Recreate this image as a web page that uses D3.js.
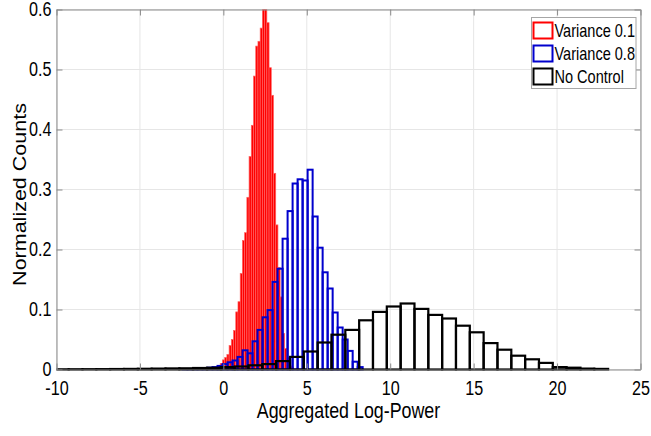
<!DOCTYPE html>
<html>
<head>
<meta charset="utf-8">
<script src="https://cdn.jsdelivr.net/npm/d3@7"></script>
<style>
  body { margin: 0; background: #fff; }
  text { font-family: "Liberation Sans", Arial, sans-serif; fill: #000; }
</style>
</head>
<body>
<svg id="chart" width="651" height="436"></svg>
<script>
// histogram bins (first edge + width, in data units) and normalized counts
var redStart = -0.32, redWidth = 0.133;
var redCounts = [0.006, 0.010, 0.016, 0.020, 0.025, 0.040, 0.050, 0.065, 0.096, 0.113,
  0.160, 0.215, 0.228, 0.287, 0.355, 0.407, 0.489, 0.539, 0.547, 0.569,
  0.62, 0.62, 0.578, 0.503, 0.457, 0.327, 0.241, 0.170, 0.121, 0.060,
  0.035, 0.020, 0.006, 0.004];

var blueStart = -2.45, blueWidth = 0.3;
var blueCounts = [0.0005, 0.0008, 0.001, 0.0015, 0.002, 0.003, 0.004, 0.006, 0.009, 0.012,
  0.015, 0.021, 0.032, 0.027, 0.047, 0.066, 0.087, 0.099, 0.146, 0.168,
  0.218, 0.264, 0.310, 0.317, 0.315, 0.333, 0.255, 0.203, 0.162, 0.135,
  0.095, 0.070, 0.050, 0.031, 0.013, 0.004];

var blackStart = -10.1, blackWidth = 0.829;
var blackCounts = [0.0003, 0.0004, 0.0005, 0.0006, 0.0008, 0.001, 0.0012, 0.0015, 0.0018, 0.002,
  0.0025, 0.003, 0.004, 0.005, 0.007, 0.009, 0.014, 0.021, 0.030, 0.045,
  0.058, 0.066, 0.082, 0.096, 0.105, 0.110, 0.101, 0.091, 0.085, 0.073,
  0.062, 0.044, 0.033, 0.023, 0.017, 0.011, 0.004, 0.003, 0.0015, 0.001];

var xTicks = [-10, -5, 0, 5, 10, 15, 20, 25];
var yTicks = [0, 0.1, 0.2, 0.3, 0.4, 0.5, 0.6];
var seriesNames = ['Variance 0.1', 'Variance 0.8', 'No Control'];

var svg = d3.select('#chart');
var m = {left: 56.5, right: 640.5, top: 9.5, bottom: 369.5};
var sx = 0.83; // glyphs look horizontally squeezed

var x = d3.scaleLinear().domain([-10, 25]).range([m.left, m.right]);
var y = d3.scaleLinear().domain([0, 0.6]).range([m.bottom, m.top]);

function bins(start, width, counts) {
  return counts.map(function(c, i) {
    return {x0: start + i * width, x1: start + (i + 1) * width, v: c};
  });
}

// grid
svg.append('g').selectAll('line').data(xTicks).join('line')
  .attr('x1', function(d) { return x(d); }).attr('x2', function(d) { return x(d); })
  .attr('y1', m.top).attr('y2', m.bottom)
  .attr('stroke', '#e6e6e6').attr('stroke-width', 1);
svg.append('g').selectAll('line').data(yTicks).join('line')
  .attr('y1', function(d) { return y(d); }).attr('y2', function(d) { return y(d); })
  .attr('x1', m.left).attr('x2', m.right)
  .attr('stroke', '#e6e6e6').attr('stroke-width', 1);

svg.append('clipPath').attr('id', 'plotclip').append('rect')
  .attr('x', m.left).attr('y', m.top)
  .attr('width', m.right - m.left).attr('height', m.bottom - m.top + 2.5);

var plot = svg.append('g').attr('clip-path', 'url(#plotclip)');

function drawBars(data, fill, stroke, sw) {
  plot.append('g').selectAll('rect').data(data).join('rect')
    .attr('x', function(d) { return x(d.x0); })
    .attr('width', function(d) { return x(d.x1) - x(d.x0); })
    .attr('y', function(d) { return y(d.v); })
    .attr('height', function(d) { return y(0) - y(d.v); })
    .attr('fill', fill).attr('stroke', stroke).attr('stroke-width', sw);
}

drawBars(bins(redStart, redWidth, redCounts), '#ff0000', '#ff6262', 0.7);
drawBars(bins(blueStart, blueWidth, blueCounts), 'none', '#0000cd', 2);
drawBars(bins(blackStart, blackWidth, blackCounts), 'none', '#000', 2.2);

// axes (MATLAB style box, inward ticks)
var axisColor = '#8a8a8a';
function styleAxis(g) {
  g.selectAll('.domain').attr('stroke', axisColor);
  g.selectAll('.tick line').attr('stroke', axisColor);
  g.selectAll('.tick text').attr('font-size', '19.5px')
    .attr('font-family', '"Liberation Sans", Arial, sans-serif').attr('fill', '#000');
}

var gx = svg.append('g').attr('transform', 'translate(0,' + m.bottom + ')')
  .call(d3.axisBottom(x).tickValues(xTicks).tickSizeInner(-6).tickSizeOuter(0).tickPadding(12)
    .tickFormat(function(d) { return String(d); }));
styleAxis(gx);
gx.selectAll('.tick text').attr('transform', 'scale(' + sx + ',1)');

var gy = svg.append('g').attr('transform', 'translate(' + m.left + ',0)')
  .call(d3.axisLeft(y).tickValues(yTicks).tickSizeInner(-6).tickSizeOuter(0).tickPadding(6)
    .tickFormat(function(d) { return d === 0 ? '0' : d3.format('.1f')(d); }));
styleAxis(gy);
gy.selectAll('.tick text').attr('transform', 'scale(' + sx + ',1)');

var gt = svg.append('g').attr('transform', 'translate(0,' + m.top + ')')
  .call(d3.axisTop(x).tickValues(xTicks).tickSizeInner(-6).tickSizeOuter(0).tickFormat(''));
styleAxis(gt);
var gr = svg.append('g').attr('transform', 'translate(' + m.right + ',0)')
  .call(d3.axisRight(y).tickValues(yTicks).tickSizeInner(-6).tickSizeOuter(0).tickFormat(''));
styleAxis(gr);

// axis titles
svg.append('text')
  .attr('transform', 'translate(' + ((m.left + m.right) / 2) + ',418) scale(' + sx + ',1)')
  .attr('text-anchor', 'middle').attr('font-size', '21.5px')
  .text('Aggregated Log-Power');
svg.append('text')
  .attr('transform', 'translate(25.5,' + ((m.top + m.bottom) / 2 + 5) + ') rotate(-90) scale(1,' + sx + ')')
  .attr('text-anchor', 'middle').attr('font-size', '21.5px')
  .text('Normalized Counts');

// legend
var legendColors = ['#ff0000', '#0000cd', '#000'];
var lg = svg.append('g');
lg.append('rect').attr('x', 531.5).attr('y', 17.5).attr('width', 104.5).attr('height', 71)
  .attr('fill', '#fff').attr('stroke', '#a6a6a6').attr('stroke-width', 1);
var items = lg.selectAll('g.item').data(seriesNames).join('g')
  .attr('class', 'item')
  .attr('transform', function(d, i) { return 'translate(533.5,' + (30.5 + i * 23) + ')'; });
items.append('rect').attr('x', 0).attr('y', -8).attr('width', 19).attr('height', 16)
  .attr('fill', '#fff')
  .attr('stroke', function(d, i) { return legendColors[i]; }).attr('stroke-width', 2);
items.append('text')
  .attr('transform', 'translate(21,6) scale(' + sx + ',1)')
  .attr('font-size', '17.5px')
  .text(function(d) { return d; });
</script>
</body>
</html>
